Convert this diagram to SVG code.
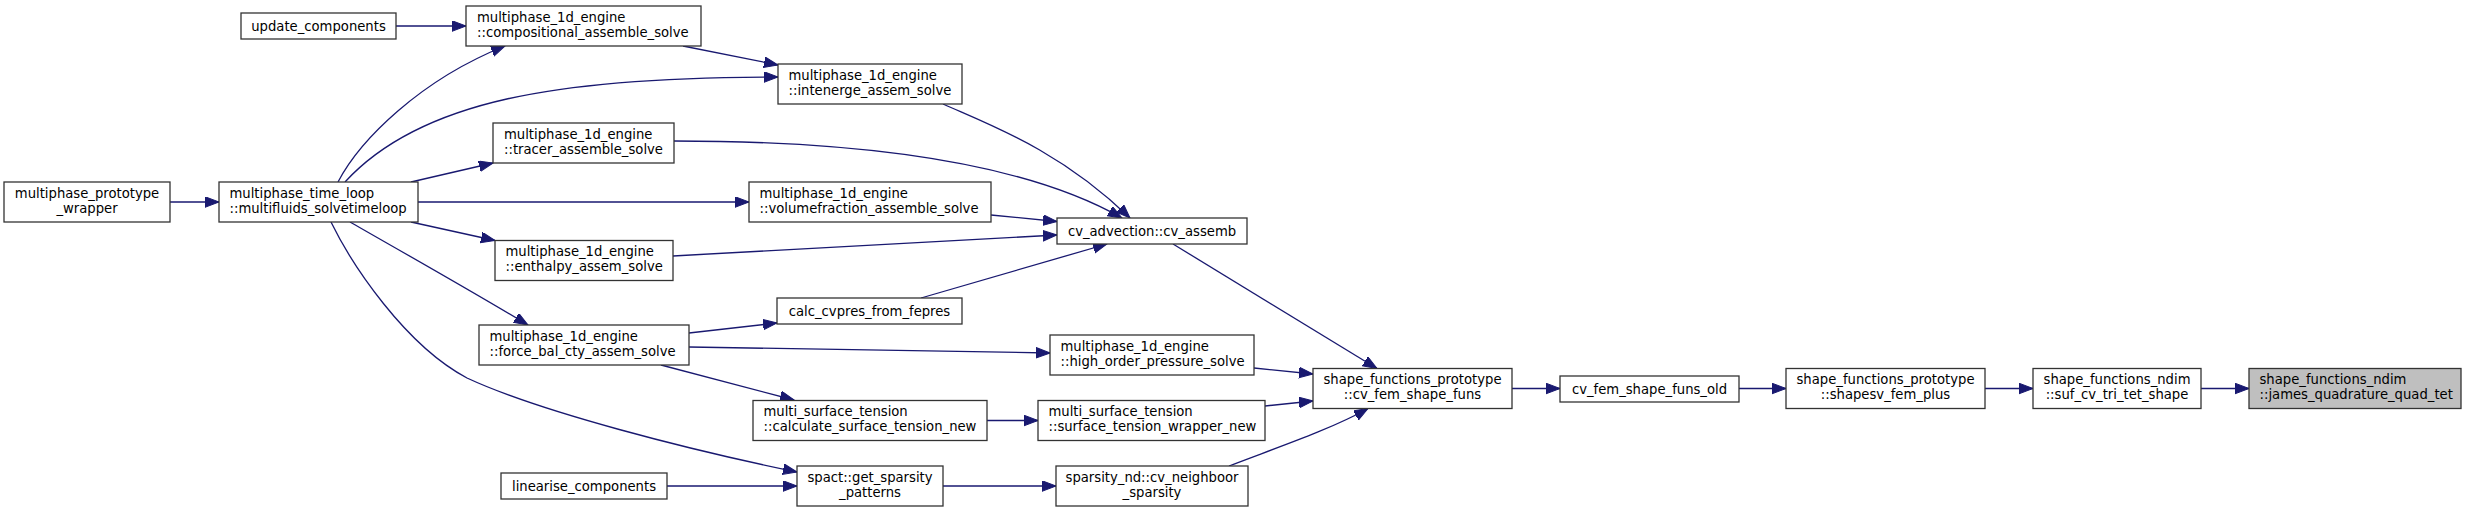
<svg xmlns="http://www.w3.org/2000/svg" width="2467" height="512" viewBox="0 0 2467 512">
<style>
.n rect{fill:#ffffff;stroke:#333333;stroke-width:1.3}
.n.hl rect{fill:#bfbfbf}
.n text{font-family:"DejaVu Sans","Liberation Sans",sans-serif;font-size:13.2px;fill:#000000}
.c{text-anchor:middle}
.e path{fill:none;stroke:#191970;stroke-width:1.3;marker-end:url(#ah)}
</style>
<defs>
<marker id="ah" markerUnits="userSpaceOnUse" markerWidth="15" markerHeight="12" refX="14" refY="5.3" orient="auto">
<path d="M0,0 L14,5.3 L0,10.6 z" fill="#191970" stroke="#191970" stroke-width="1"/>
</marker>
</defs>
<rect width="2467" height="512" fill="#ffffff"/>
<g id="edges" class="e">
<path d="M396,26 L466,26"/>
<path d="M170,202 L219,202"/>
<path d="M338,182 C360,140 420,80 505,46"/>
<path d="M345,182 C420,100 560,77 778,77"/>
<path d="M411,182 L493,163"/>
<path d="M418,202 L749,202"/>
<path d="M411,222 L495,240.5"/>
<path d="M350,222 C390,245 470,290 528,325"/>
<path d="M331,222 C352,265 405,345 467,378 C540,412 690,450 797,472"/>
<path d="M683,46 L778,65"/>
<path d="M943,104 C990,125 1060,150 1130,218"/>
<path d="M674,141 C850,141 1020,160 1122,218"/>
<path d="M991,215 L1057,221.5"/>
<path d="M673,256 L1057,235"/>
<path d="M921,298 L1107,244"/>
<path d="M689,333 L777,323"/>
<path d="M689,347 L1050,353"/>
<path d="M1254,368 L1313,374"/>
<path d="M1173,244 L1377,368.5"/>
<path d="M661,365 L794,400"/>
<path d="M987,420.5 L1038,420.5"/>
<path d="M1265,406 L1313,401"/>
<path d="M667,486 L797,486"/>
<path d="M943,486 L1056,486"/>
<path d="M1229,466 C1270,450 1330,430 1368,408.5"/>
<path d="M1512,388.5 L1560,388.5"/>
<path d="M1739,388.5 L1786,388.5"/>
<path d="M1985,388.5 L2033,388.5"/>
<path d="M2201,388.5 L2249,388.5"/>
</g>
<g id="node_wrapper" class="n"><rect x="4" y="182" width="166" height="40"/><text class="c" x="87" y="197.5">multiphase_prototype</text><text class="c" x="87" y="212.5">_wrapper</text></g>
<g id="node_multifluids" class="n"><rect x="219" y="182" width="199" height="40"/><text x="229.5" y="197.5">multiphase_time_loop</text><text x="229.5" y="212.5">::multifluids_solvetimeloop</text></g>
<g id="node_update_components" class="n"><rect x="241" y="13" width="155" height="26"/><text class="c" x="318.5" y="30.5">update_components</text></g>
<g id="node_compositional" class="n"><rect x="466" y="6" width="235" height="40"/><text x="477" y="21.5">multiphase_1d_engine</text><text x="477" y="36.5">::compositional_assemble_solve</text></g>
<g id="node_tracer" class="n"><rect x="493" y="123" width="181" height="40"/><text x="504" y="138.5">multiphase_1d_engine</text><text x="504" y="153.5">::tracer_assemble_solve</text></g>
<g id="node_enthalpy" class="n"><rect x="495" y="240.5" width="178" height="40"/><text x="505.5" y="256">multiphase_1d_engine</text><text x="505.5" y="271">::enthalpy_assem_solve</text></g>
<g id="node_force_bal" class="n"><rect x="479" y="325" width="210" height="40"/><text x="489.5" y="340.5">multiphase_1d_engine</text><text x="489.5" y="355.5">::force_bal_cty_assem_solve</text></g>
<g id="node_linearise" class="n"><rect x="501" y="473" width="166" height="26"/><text class="c" x="584" y="490.5">linearise_components</text></g>
<g id="node_intenerge" class="n"><rect x="778" y="64" width="184" height="40"/><text x="788.5" y="79.5">multiphase_1d_engine</text><text x="788.5" y="94.5">::intenerge_assem_solve</text></g>
<g id="node_volumefraction" class="n"><rect x="749" y="182" width="242" height="40"/><text x="759.5" y="197.5">multiphase_1d_engine</text><text x="759.5" y="212.5">::volumefraction_assemble_solve</text></g>
<g id="node_cv_assemb" class="n"><rect x="1057" y="218" width="190" height="26"/><text class="c" x="1152" y="235.5">cv_advection::cv_assemb</text></g>
<g id="node_calc_cvpres" class="n"><rect x="777" y="298" width="185" height="26"/><text class="c" x="869.5" y="315.5">calc_cvpres_from_fepres</text></g>
<g id="node_high_order" class="n"><rect x="1050" y="335" width="204" height="40"/><text x="1060.5" y="350.5">multiphase_1d_engine</text><text x="1060.5" y="365.5">::high_order_pressure_solve</text></g>
<g id="node_calc_st" class="n"><rect x="753" y="400.5" width="234" height="40"/><text x="763.5" y="416">multi_surface_tension</text><text x="763.5" y="431">::calculate_surface_tension_new</text></g>
<g id="node_st_wrapper" class="n"><rect x="1038" y="400.5" width="227" height="40"/><text x="1048.5" y="416">multi_surface_tension</text><text x="1048.5" y="431">::surface_tension_wrapper_new</text></g>
<g id="node_spact" class="n"><rect x="797" y="466" width="146" height="40"/><text class="c" x="870" y="481.5">spact::get_sparsity</text><text class="c" x="870" y="496.5">_patterns</text></g>
<g id="node_sparsity_nd" class="n"><rect x="1056" y="466" width="192" height="40"/><text class="c" x="1152" y="481.5">sparsity_nd::cv_neighboor</text><text class="c" x="1152" y="496.5">_sparsity</text></g>
<g id="node_cv_fem_shape_funs" class="n"><rect x="1313" y="368.5" width="199" height="40"/><text class="c" x="1412.5" y="384">shape_functions_prototype</text><text class="c" x="1412.5" y="399">::cv_fem_shape_funs</text></g>
<g id="node_cv_fem_shape_funs_old" class="n"><rect x="1560" y="376" width="179" height="26"/><text class="c" x="1649.5" y="393.5">cv_fem_shape_funs_old</text></g>
<g id="node_shapesv" class="n"><rect x="1786" y="368.5" width="199" height="40"/><text class="c" x="1885.5" y="384">shape_functions_prototype</text><text class="c" x="1885.5" y="399">::shapesv_fem_plus</text></g>
<g id="node_suf" class="n"><rect x="2033" y="368.5" width="168" height="40"/><text class="c" x="2117" y="384">shape_functions_ndim</text><text class="c" x="2117" y="399">::suf_cv_tri_tet_shape</text></g>
<g id="node_james" class="n hl"><rect x="2249" y="368.5" width="212" height="40"/><text x="2259.5" y="384">shape_functions_ndim</text><text x="2259.5" y="399">::james_quadrature_quad_tet</text></g>
</svg>
